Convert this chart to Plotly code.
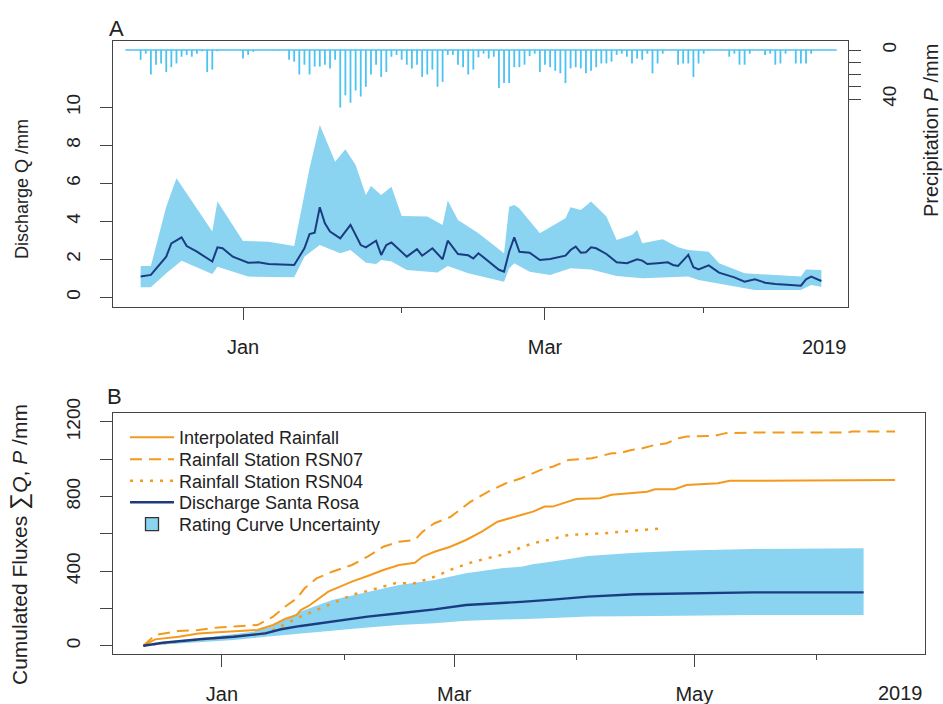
import plotly.graph_objects as go
import pandas as pd

# ---------------- data ----------------
BASE = pd.Timestamp("2019-01-01")

# Panel A: daily precipitation (mm), starting at day offset -23 relative to 1 Jan
precip_start = -23
precip_mm = [
    0, 0, 0, 8, 3, 20, 12, 11, 18, 14, 11, 5.5, 4, 5.5, 3, 1, 18, 16, 1, 0, 0, 0, 0,   # -23 .. -1
    7, 4, 1.5, 0, 0, 0, 0.5, 0.5, 0, 8, 9.5, 20, 12, 20, 13.5, 13.5, 12, 15, 8,         # 0 .. 18
    47, 37, 43, 33, 38, 30, 20, 12, 22, 18, 5.5, 4, 8, 12, 15, 12, 22, 20, 16, 30, 26,  # 19 .. 39
    4, 4, 12, 14, 20, 16, 6, 3, 7, 5.5, 31, 27, 27, 14, 14, 12, 5, 3, 18, 12,           # 40 .. 59
    14, 17, 19, 27, 15, 14, 15, 19, 17, 14, 11, 11, 9.5, 4, 3, 5.5, 11, 7, 8, 3,        # 60 .. 79
    19, 11, 3, 0, 0, 12, 11, 11, 22, 11, 3, 0, 0, 0, 0, 5.5, 3, 12, 12, 3,              # 80 .. 99
    0, 0, 4, 3, 12, 11, 3, 0, 11, 11, 11, 3, 0, 0, 0, 0, 0,                              # 100 .. 116
]

# Panel A: discharge Q (mm/day) and rating-curve uncertainty band
q_day = [-20, -18, -15, -14, -12, -11, -9, -6, -5, -4, -2, 1, 3, 5, 10, 12, 13, 14, 15, 16,
         17, 19, 21, 23, 24, 26, 27, 28, 29, 32, 34, 35, 37, 39, 40, 42, 44, 45, 46, 48,
         50, 51, 52, 53, 54, 56, 58, 60, 63, 64, 65, 66, 67, 68, 69, 71, 73, 75, 77, 78,
         79, 81, 83, 84, 85, 87, 88, 89, 91, 93, 96, 98, 100, 102, 104, 107, 109, 110, 111, 113]
q_mm = [1.09, 1.18, 2.14, 2.84, 3.16, 2.70, 2.40, 1.88, 2.63, 2.58, 2.14, 1.82, 1.84, 1.75, 1.70, 2.58, 3.33, 3.40, 4.74, 3.89,
        3.46, 3.10, 3.81, 2.75, 2.63, 2.98, 2.23, 2.75, 2.89, 2.14, 2.53, 2.19, 2.58, 2.00, 2.98, 2.28, 2.21, 2.04, 2.32, 1.88,
        1.45, 1.35, 2.40, 3.16, 2.40, 2.35, 1.96, 2.02, 2.19, 2.49, 2.67, 2.35, 2.37, 2.63, 2.58, 2.28, 1.84, 1.79, 2.00, 1.93,
        1.75, 1.79, 1.84, 1.70, 1.65, 2.23, 1.58, 1.47, 1.68, 1.30, 1.05, 0.82, 0.95, 0.77, 0.70, 0.65, 0.61, 0.95, 1.09, 0.86]

q_hi_day = [-20, -18, -15, -13, -6, -5, 0, 5, 10, 13, 15, 18, 20, 22, 24, 25, 27, 29, 31, 36,
            39, 40, 42, 46, 51, 52, 53, 54, 58, 63, 64, 66, 68, 71, 73, 76, 77, 78, 82, 85,
            87, 91, 93, 98, 109, 110, 113]
q_hi = [1.65, 1.65, 4.77, 6.26, 3.46, 5.04, 2.96, 2.93, 2.70, 6.79, 9.07, 7.14, 7.79, 6.96, 5.39, 5.86, 5.39, 5.82, 4.28, 4.25,
        3.81, 5.09, 4.07, 3.37, 2.32, 4.77, 4.86, 4.68, 3.37, 4.16, 4.74, 4.60, 5.04, 4.25, 3.02, 3.28, 3.54, 2.84, 3.05, 2.63,
        2.49, 2.40, 1.79, 1.26, 1.09, 1.47, 1.44]

q_lo_day = [-20, -18, -15, -12, -6, -5, 1, 10, 12, 15, 19, 21, 24, 26, 27, 29, 32, 38, 40, 44,
            51, 52, 53, 56, 60, 64, 68, 73, 78, 87, 89, 96, 100, 109, 111, 113]
q_lo = [0.53, 0.53, 1.26, 1.93, 1.23, 1.61, 1.09, 1.05, 2.14, 2.75, 2.32, 2.49, 1.82, 1.75, 1.96, 1.88, 1.44, 1.30, 1.65, 1.26,
        0.82, 1.53, 1.79, 1.35, 1.18, 1.53, 1.47, 1.12, 1.00, 1.09, 0.91, 0.56, 0.39, 0.39, 0.65, 0.56]

# Panel B: cumulated fluxes (mm)
rain_interp_day = [-20, -17, -11, -6, -1, 5, 9, 13, 16, 19, 20, 22, 24, 27, 30, 33, 37, 41, 45, 49,
                   51, 54, 58, 62, 66, 70, 76, 79, 82, 84, 90, 96, 99, 104, 108, 110, 115, 118, 126, 129,
                   135, 160, 171]
rain_interp = [0, 34, 48, 66, 72, 79, 84, 111, 143, 165, 191, 213, 245, 290, 317, 344, 374, 406, 433, 445,
               478, 504, 531, 567, 612, 665, 701, 719, 746, 746, 787, 791, 809, 818, 826, 839, 839, 862, 871, 884,
               885, 885, 889]

rsn07_day = [-20, -17, -11, -6, -1, 7, 9, 13, 16, 19, 21, 24, 28, 33, 37, 41, 45, 49, 51, 54,
             58, 63, 68, 72, 76, 81, 84, 88, 94, 99, 101, 104, 106, 110, 113, 116, 118, 125, 128, 135,
             159, 160, 171]
rsn07 = [0, 57, 79, 84, 98, 106, 111, 156, 209, 254, 308, 361, 397, 433, 478, 531, 558, 567, 612, 657,
         690, 770, 830, 870, 898, 943, 960, 996, 1005, 1032, 1032, 1050, 1054, 1077, 1086, 1113, 1122, 1125, 1140, 1143,
         1143, 1149, 1149]

rsn04_day = [-20, -15, -5, 3, 10, 13, 20, 23, 28, 33, 38, 44, 49, 54, 59, 64, 71, 76, 79, 83,
             88, 97, 104, 112]
rsn04 = [0, 13, 34, 48, 63, 84, 156, 182, 227, 272, 299, 335, 335, 370, 415, 451, 487, 525, 550, 567,
         594, 603, 615, 630]

cumq_day = [-20, -15, -5, 3, 11, 15, 20, 28, 37, 45, 54, 62, 71, 76, 84, 93, 105, 118, 135, 163]
cumq = [0, 16, 36, 48, 66, 88, 106, 129, 156, 174, 195, 218, 228, 235, 247, 263, 276, 281, 286, 286]

cumq_hi_day = [-20, -10, 0, 8, 13, 16, 20, 28, 37, 45, 54, 62, 71, 76, 79, 84, 93, 105, 118, 135, 163]
cumq_hi = [0, 25, 55, 75, 105, 140, 183, 245, 290, 326, 352, 388, 415, 424, 437, 451, 481, 499, 510, 519, 522]
cumq_lo_day = [-20, 3, 11, 20, 28, 37, 45, 54, 62, 71, 79, 84, 93, 110, 135, 163]
cumq_lo = [0, 30, 48, 66, 84, 98, 111, 120, 134, 138, 145, 148, 156, 159, 165, 165]

# axis ticks
a_major_day, a_major_lab = [0, 59], ["Jan", "Mar"]
a_minor_day = [31, 90]
b_major_day, b_major_lab = [0, 59, 120], ["Jan", "Mar", "May"]
b_minor_day = [31, 90, 151]
year_label = "2019"
a_year_day, b_year_day = 113.7, 172.3
q_ticks = [0, 2, 4, 6, 8, 10]
p_ticks, p_ticktext = [0, 10, 20, 30, 40], ["0", "", "", "", "40"]
cum_ticks = [0, 200, 400, 600, 800, 1000, 1200]
cum_ticktext = ["0", "", "400", "", "800", "", "1200"]


def d(offsets):
    return [BASE + pd.Timedelta(days=o) for o in offsets]


def ds(o):
    return (BASE + pd.Timedelta(days=o)).strftime("%Y-%m-%d %H:%M:%S")


# ---------------- styles ----------------
FONT = "Liberation Sans, Arial, Helvetica, sans-serif"
TXT = "#222222"
AX = "#444444"
BAR = "#4cc3f0"
BAND = "#8ad3f1"
NAVY = "#1b3c80"
ORANGE = "#f39a1e"

W, H = 943, 704
L, T = 113, 41
R, B = W - 925, H - 654
pw, ph = W - L - R, H - T - B


def py(px):  # px: window pixel row
    return (H - B - px) / ph


def pxx(px):  # px: window pixel column
    return (px - L) / pw


fig = go.Figure()

# ---- Panel A ----
precip_days = list(range(precip_start, precip_start + len(precip_mm)))
sx, sy = [], []
for day, p in zip(d(precip_days), precip_mm):
    if p > 0:
        sx += [day, day, None]
        sy += [0, p, None]
fig.add_trace(go.Scatter(x=[d(precip_days)[0], d(precip_days)[-1]], y=[0, 0], mode="lines",
                         line=dict(color=BAR, width=1.5), showlegend=False, hoverinfo="skip",
                         xaxis="x", yaxis="y2"))
fig.add_trace(go.Scatter(x=sx, y=sy, mode="lines", line=dict(color=BAR, width=1.8),
                         showlegend=False, name="Precipitation", xaxis="x", yaxis="y2"))

fig.add_trace(go.Scatter(x=d(q_lo_day), y=q_lo, mode="lines", line=dict(width=0, color=BAND),
                         showlegend=False, hoverinfo="skip", xaxis="x", yaxis="y"))
fig.add_trace(go.Scatter(x=d(q_hi_day), y=q_hi, mode="lines", line=dict(width=0, color=BAND),
                         fill="tonexty", fillcolor=BAND, showlegend=False, hoverinfo="skip",
                         xaxis="x", yaxis="y"))
fig.add_trace(go.Scatter(x=d(q_day), y=q_mm, mode="lines", line=dict(color=NAVY, width=2),
                         showlegend=False, name="Discharge", xaxis="x", yaxis="y"))

# ---- Panel B ----
fig.add_trace(go.Scatter(x=d(cumq_lo_day), y=cumq_lo, mode="lines", line=dict(width=0, color=BAND),
                         showlegend=False, hoverinfo="skip", xaxis="x2", yaxis="y3"))
fig.add_trace(go.Scatter(x=d(cumq_hi_day), y=cumq_hi, mode="lines", line=dict(width=0, color=BAND),
                         fill="tonexty", fillcolor=BAND, showlegend=False, hoverinfo="skip",
                         xaxis="x2", yaxis="y3"))
fig.add_trace(go.Scatter(x=d(rain_interp_day), y=rain_interp, mode="lines",
                         line=dict(color=ORANGE, width=2), name="Interpolated Rainfall",
                         legend="legend", xaxis="x2", yaxis="y3"))
fig.add_trace(go.Scatter(x=d(rsn07_day), y=rsn07, mode="lines",
                         line=dict(color=ORANGE, width=2, dash="12px,7px"), name="Rainfall Station RSN07",
                         legend="legend2", xaxis="x2", yaxis="y3"))
fig.add_trace(go.Scatter(x=d(rsn04_day), y=rsn04, mode="lines",
                         line=dict(color=ORANGE, width=2.5, dash="3px,7px"), name="Rainfall Station RSN04",
                         legend="legend3", xaxis="x2", yaxis="y3"))
fig.add_trace(go.Scatter(x=d(cumq_day), y=cumq, mode="lines",
                         line=dict(color=NAVY, width=2.4), name="Discharge Santa Rosa",
                         legend="legend4", xaxis="x2", yaxis="y3"))
fig.add_trace(go.Scatter(x=[None], y=[None], mode="markers",
                         marker=dict(symbol="square", size=13, color=BAND, line=dict(color="#333", width=1.3)),
                         name="Rating Curve Uncertainty", legend="legend5", xaxis="x2", yaxis="y3"))

# ---------------- layout ----------------
common = dict(ticks="outside", ticklen=12, tickwidth=1.3, tickcolor=AX,
              showline=True, linecolor=AX, linewidth=1.3, showgrid=False, zeroline=False,
              automargin=False)
xfont = dict(size=20, color=TXT, family=FONT)
yfont = dict(size=19, color=TXT, family=FONT)

legend_rows = [437, 459, 480.5, 502, 524]
legend_style = dict(xanchor="left", yanchor="top", bgcolor="rgba(0,0,0,0)", borderwidth=0,
                    font=dict(size=18, color=TXT, family=FONT), itemwidth=44)
legends = {}
for i, row in enumerate(legend_rows):
    key = "legend" if i == 0 else f"legend{i + 1}"
    legends[key] = dict(x=pxx(125), y=py(row - 18), **legend_style)

fig.update_layout(
    template="none",
    width=W, height=H,
    margin=dict(l=L, r=R, t=T, b=B, autoexpand=False),
    paper_bgcolor="white", plot_bgcolor="white",
    font=dict(family=FONT, color=TXT, size=18),
    xaxis=dict(domain=[0, pxx(848)], anchor="y", type="date",
               range=[ds(-25.4), ds(118.2)], tickmode="array",
               tickvals=d(a_major_day), ticktext=a_major_lab, mirror=True, ticklabelstandoff=10,
               tickfont=xfont,
               minor=dict(tickmode="array", tickvals=d(a_minor_day), ticks="outside", ticklen=5,
                          tickwidth=1.3, tickcolor=AX, showgrid=False),
               **common),
    yaxis=dict(domain=[py(307), 1], anchor="x", range=[-0.51, 13.49], tickmode="array",
               tickvals=q_ticks, tickangle=-90, mirror=True, ticklabelstandoff=12, tickfont=yfont,
               **common),
    yaxis2=dict(overlaying="y", anchor="x", side="right", range=[209.8, -7.35], tickmode="array",
                tickvals=p_ticks, ticktext=p_ticktext, tickangle=-90, ticks="outside", ticklen=12,
                tickwidth=1.3, tickcolor=AX, showline=False, showgrid=False, zeroline=False,
                automargin=False, ticklabelstandoff=12, tickfont=yfont),
    xaxis2=dict(domain=[0, 1], anchor="y3", type="date",
                range=[ds(-27.69), ds(178.6)], tickmode="array",
                tickvals=d(b_major_day), ticktext=b_major_lab, mirror=True, ticklabelstandoff=10,
                tickfont=xfont,
                minor=dict(tickmode="array", tickvals=d(b_minor_day), ticks="outside", ticklen=5,
                           tickwidth=1.3, tickcolor=AX, showgrid=False),
                **common),
    yaxis3=dict(domain=[0, py(413)], anchor="x2", range=[-44.5, 1248], tickmode="array",
                tickvals=cum_ticks, ticktext=cum_ticktext, tickangle=-90, mirror=True,
                ticklabelstandoff=12, tickfont=yfont, **common),
    showlegend=True,
    **legends,
)

ann = [
    dict(text="A", x=pxx(116), y=py(28), font=dict(size=22)),
    dict(text="B", x=pxx(114), y=py(396), font=dict(size=22)),
    dict(text="Discharge Q /mm", x=pxx(22), y=py(189), textangle=-90, font=dict(size=18)),
    dict(text="Precipitation <i>P</i> /mm", x=pxx(931), y=py(131), textangle=-90, font=dict(size=20)),
    dict(text="Cumulated Fluxes <span style='font-size:24px'>∑</span><i>Q</i>, <i>P</i> /mm",
         x=pxx(19), y=py(545), textangle=-90, font=dict(size=21)),
]
for a in ann:
    fig.add_annotation(xref="paper", yref="paper", showarrow=False, xanchor="center",
                       yanchor="middle", **a)
fig.add_annotation(text=year_label, xref="x", yref="paper", x=ds(a_year_day), y=py(347),
                   showarrow=False, xanchor="center", yanchor="middle", font=xfont)
fig.add_annotation(text=year_label, xref="x2", yref="paper", x=ds(b_year_day), y=py(693),
                   showarrow=False, xanchor="center", yanchor="middle", font=xfont)

# remove the browser's default 8 px body margin so the figure fills the window exactly
fig.write_html("out.html", config={"displayModeBar": False},
               post_script="document.body.style.margin='0';")
